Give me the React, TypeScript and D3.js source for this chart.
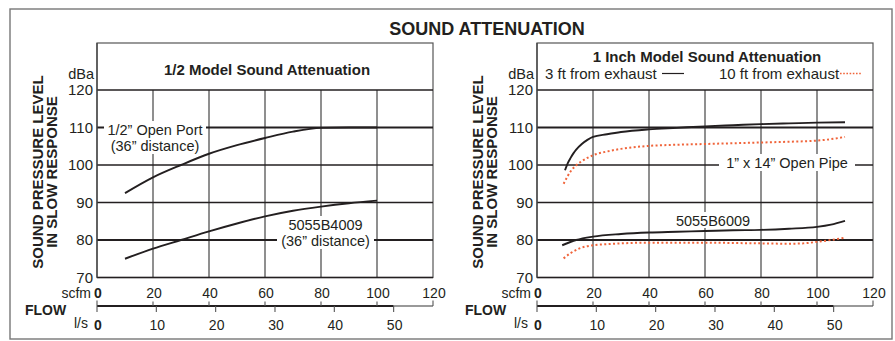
import React, { useEffect } from 'react';
import * as d3 from 'd3';

// axis ticks
const scfmTicks = [0, 20, 40, 60, 80, 100, 120];
const lpsTicks = [0, 10, 20, 30, 40, 50];
const dbaTicks = [70, 80, 90, 100, 110, 120];
const gridScfm = [20, 40, 60, 80, 100];
const heavyDba = [80, 110];
const LPS_TO_SCFM = 2.11888;

// 1/2 model
const openPortScfm = [10, 20, 30, 40, 50, 60, 70, 80, 90, 100];
const openPortDba = [92.5, 96.7, 100, 103, 105.3, 107.2, 108.9, 109.9, 110, 110];
const b4009Scfm = [10, 20, 30, 40, 50, 60, 70, 80, 90, 100];
const b4009Dba = [75, 77.7, 80, 82.3, 84.4, 86.3, 87.8, 88.9, 89.8, 90.5];

// 1 inch model
const pipe3ftScfm = [10, 11, 12, 13, 14, 16, 18, 20, 25, 30, 40, 50, 60, 70, 80, 90, 100, 110];
const pipe3ftDba = [98.6, 100.5, 101.9, 103.1, 104.1, 105.6, 106.7, 107.5, 108.2, 108.8, 109.5, 109.9, 110.3, 110.6, 110.9, 111.1, 111.3, 111.4];
const pipe10ftScfm = [9.5, 10.5, 12, 14, 16, 18, 20, 25, 30, 40, 50, 60, 70, 80, 90, 100, 105, 110];
const pipe10ftDba = [95, 96.4, 98.3, 99.9, 101, 101.9, 102.6, 103.6, 104.3, 105.1, 105.4, 105.6, 105.8, 106, 106.2, 106.5, 106.9, 107.5];
const b6009ftScfm = [9, 14, 20, 30, 40, 50, 60, 70, 80, 90, 100, 105, 110];
const b6009Dba3ft = [78.6, 80, 80.9, 81.6, 82, 82.2, 82.4, 82.6, 82.7, 83, 83.5, 84.1, 85.1];
const b6009Scfm10 = [9.5, 12, 15, 20, 25, 30, 40, 50, 60, 70, 80, 90, 95, 100, 105, 110];
const b6009Dba10ft = [75.1, 76.5, 77.7, 78.6, 78.9, 79.1, 79.3, 79.3, 79.3, 79.2, 79.1, 79, 79.1, 79.5, 80, 80.6];

const FONT = "'Liberation Sans', Arial, Helvetica, sans-serif";
const INK = '#231f20';
const RED = '#f0643a';

const y = d3.scaleLinear().domain([70, 120]).range([277.5, 90]);

type Series = { xs: number[]; ys: number[]; dotted?: boolean };
// label: centre (x,y) of first line plus the white box that breaks the grid behind it
type Label = { lines: string[]; x: number; y: number; w: number; h: number };

const Panel: React.FC<{
  dx: number;
  title: string;
  titleY: number;
  series: Series[];
  labels: Label[];
  legend?: boolean;
}> = ({ dx, title, titleY, series, labels, legend }) => {
  const x = d3.scaleLinear().domain([0, 120]).range([97 + dx, 433 + dx]);
  const xl = (v: number) => x(v * LPS_TO_SCFM);
  const line = d3
    .line<[number, number]>()
    .x((d) => x(d[0]))
    .y((d) => y(d[1]))
    .curve(d3.curveMonotoneX);
  const axisY = 306;
  const left = x(0);
  const right = x(120);

  return (
    <g fontFamily={FONT}>
      <rect x={left} y={43} width={right - left} height={y(70) - 43} fill="white" stroke="#555" strokeWidth={1.2} />
      <text x={(left + right) / 2 + 2} y={titleY} textAnchor="middle" fontWeight="bold" fontSize={15} fill={INK}>
        {title}
      </text>
      {legend && (
        <g fontSize={15} fill={INK}>
          <text x={545} y={78.5}>3 ft from exhaust</text>
          <line x1={662} x2={684} y1={73.5} y2={73.5} stroke={INK} strokeWidth={1.2} />
          <text x={719} y={78.5}>10 ft from exhaust</text>
          <line x1={840} x2={862} y1={73.5} y2={73.5} stroke={RED} strokeWidth={1.6} strokeDasharray="1.6,1.6" />
        </g>
      )}
      {gridScfm.map((v) => (
        <line key={v} x1={x(v)} x2={x(v)} y1={y(120)} y2={y(70)} stroke="#333" strokeWidth={1.1} />
      ))}
      {dbaTicks.map((v) => (
        <line
          key={v}
          x1={left}
          x2={right}
          y1={y(v)}
          y2={y(v)}
          stroke={INK}
          strokeWidth={heavyDba.includes(v) ? 2.2 : 1.3}
        />
      ))}
      <line x1={left} x2={left} y1={43} y2={y(70)} stroke="#444" strokeWidth={1.3} />
      {dbaTicks.map((v) => (
        <text key={v} x={left - 4} y={y(v)} dy="0.36em" textAnchor="end" fontSize={15} fill={INK}>
          {v}
        </text>
      ))}
      <text x={left - 3} y={73.5} dy="0.36em" textAnchor="end" fontSize={14.5} fill={INK}>dBa</text>
      <g transform={`translate(${38 + dx},172) rotate(-90)`} fontWeight="bold" fontSize={15} fill={INK} textAnchor="middle">
        <text y={5}>SOUND PRESSURE LEVEL</text>
        <text y={19}>IN SLOW RESPONSE</text>
      </g>

      {labels.map((l, i) => (
        <g key={i}>
          <rect x={l.x - l.w / 2} y={l.y - 8.5} width={l.w} height={l.h} fill="white" />
          <text textAnchor="middle" fontSize={14.5} fill={INK}>
            {l.lines.map((s, j) => (
              <tspan key={j} x={l.x} y={l.y + j * 16} dy="0.36em">
                {s}
              </tspan>
            ))}
          </text>
        </g>
      ))}

      {series.map((s, i) => (
        <path
          key={i}
          d={line(s.xs.map((v, k) => [v, s.ys[k]] as [number, number])) || ''}
          fill="none"
          stroke={s.dotted ? RED : INK}
          strokeWidth={s.dotted ? 2 : 1.9}
          strokeDasharray={s.dotted ? '2,2.4' : undefined}
        />
      ))}

      {/* flow axis */}
      <line x1={left} x2={xl(50)} y1={axisY} y2={axisY} stroke={INK} strokeWidth={2} />
      <line x1={xl(50)} x2={right} y1={axisY} y2={axisY} stroke="#777" strokeWidth={1.4} />
      {scfmTicks.map((v) => (
        <line
          key={v}
          x1={x(v)}
          x2={x(v)}
          y1={axisY}
          y2={axisY - (v === 0 || v === 120 ? 5.5 : 4.5)}
          stroke="#555"
          strokeWidth={1.1}
        />
      ))}
      {lpsTicks.map((v) => (
        <line key={v} x1={xl(v)} x2={xl(v)} y1={axisY} y2={axisY + 6} stroke="#555" strokeWidth={1.1} />
      ))}
      {scfmTicks.map((v) => (
        <text key={v} x={x(v) + 1} y={298} textAnchor="middle" fontSize={14} fontWeight={v === 0 ? 'bold' : 'normal'} fill={INK}>
          {v}
        </text>
      ))}
      {lpsTicks.map((v) => (
        <text key={v} x={xl(v) + 1} y={330} textAnchor="middle" fontSize={14} fontWeight={v === 0 ? 'bold' : 'normal'} fill={INK}>
          {v}
        </text>
      ))}
      <text x={left - 6} y={298} textAnchor="end" fontSize={14} fill={INK}>scfm</text>
      <text x={left - 9} y={328} textAnchor="end" fontSize={14} fill={INK}>l/s</text>
      <text x={25 + dx} y={315} fontWeight="bold" fontSize={14} fill={INK}>FLOW</text>
    </g>
  );
};

export default function App() {
  useEffect(() => {
    document.body.style.margin = '0';
  }, []);

  return (
    <svg width={895} height={341} style={{ display: 'block', background: 'white' }}>
      <rect x={10} y={9} width={882} height={330} fill="white" stroke="#777" strokeWidth={1.4} />
      <text x={487} y={35} textAnchor="middle" fontFamily={FONT} fontWeight="bold" fontSize={18} fill={INK}>
        SOUND ATTENUATION
      </text>
      <Panel
        dx={0}
        title="1/2 Model Sound Attenuation"
        titleY={75}
        series={[
          { xs: openPortScfm, ys: openPortDba },
          { xs: b4009Scfm, ys: b4009Dba },
        ]}
        labels={[
          { lines: ['1/2\u201D Open Port', '(36\u201D distance)'], x: 155, y: 129.5, w: 102, h: 33 },
          { lines: ['5055B4009', '(36\u201D distance)'], x: 325.5, y: 224.5, w: 97, h: 33 },
        ]}
      />
      <Panel
        dx={440}
        title="1 Inch Model Sound Attenuation"
        titleY={62}
        legend
        series={[
          { xs: pipe3ftScfm, ys: pipe3ftDba },
          { xs: pipe10ftScfm, ys: pipe10ftDba, dotted: true },
          { xs: b6009ftScfm, ys: b6009Dba3ft },
          { xs: b6009Scfm10, ys: b6009Dba10ft, dotted: true },
        ]}
        labels={[
          { lines: ['1\u201D x 14\u201D Open Pipe'], x: 787, y: 162.5, w: 136, h: 17 },
          { lines: ['5055B6009'], x: 713, y: 220.5, w: 80, h: 16 },
        ]}
      />
    </svg>
  );
}
